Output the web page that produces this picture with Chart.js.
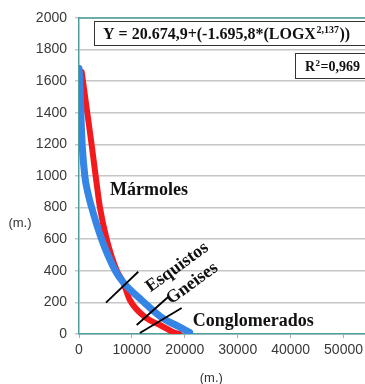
<!DOCTYPE html>
<html>
<head>
<meta charset="utf-8">
<script src="https://cdn.jsdelivr.net/npm/chart.js@4.4.1/dist/chart.umd.min.js"></script>
<style>
  html, body { margin: 0; padding: 0; background: #fff; overflow: hidden; width: 365px; height: 384px; }
  #wrap { position: relative; width: 372px; height: 384px; }
</style>
</head>
<body>
<div id="wrap"><canvas id="c" width="372" height="384"></canvas></div>
<script>
// Distance (m.) vs height (m.) for the two fitted run-out curves
const blueX = [0, 150, 350, 600, 1100, 1500, 2400, 4280, 6800, 8300, 11800, 15800, 18700, 20900];
const blueY = [1680, 1600, 1400, 1200, 1000, 920, 800, 600, 405, 330, 215, 100, 50, 10];
const redX = [500, 1570, 2380, 3150, 3960, 5230, 7100, 8300, 9620, 12770, 15300, 18100, 19000];
const redY = [1660, 1400, 1200, 1000, 800, 600, 405, 330, 215, 100, 57, 8, 0];

// Short crossing strokes marking each rock type on the curves
const slashEsquistos = [[5100, 198], [11200, 394]];
const slashGneises = [[10900, 57], [16850, 234]];
const slashConglomerados = [[11500, 6], [19400, 165]];

// Text labels: [text, x, y, angle in degrees]
const rockLabels = [
  ['Mármoles', 5850, 880, 0],
  ['Esquistos', 13500, 262, -36],
  ['Gneises', 17400, 186, -36],
  ['Conglomerados', 21500, 50, 0]
];
const equationText = 'Y = 20.674,9+(-1.695,8*(LOGX';
const equationExp = '2,137';
const equationTail = '))';
const r2Text = ['R', '2', '=0,969'];

const xTicks = [0, 10000, 20000, 30000, 40000, 50000];
const axisTitle = '(m.)';

const toPts = (xs, ys) => xs.map((x, i) => ({ x, y: ys[i] }));
const pairPts = p => p.map(([x, y]) => ({ x, y }));

const teal = '#4f9e9e';

const decor = {
  id: 'decor',
  afterDraw(chart) {
    const { ctx, chartArea: a, scales: { x, y } } = chart;
    ctx.save();
    // top frame line
    ctx.strokeStyle = teal;
    ctx.lineWidth = 1.5;
    ctx.beginPath();
    ctx.moveTo(a.left, a.top);
    ctx.lineTo(a.right + 5, a.top);
    ctx.stroke();

    // rock labels
    ctx.fillStyle = '#111';
    ctx.font = 'bold 18px "Liberation Serif", "Times New Roman", serif';
    ctx.textBaseline = 'alphabetic';
    ctx.textAlign = 'left';
    rockLabels.forEach(([t, vx, vy, ang]) => {
      ctx.save();
      ctx.translate(x.getPixelForValue(vx), y.getPixelForValue(vy));
      ctx.rotate(ang * Math.PI / 180);
      ctx.fillText(t, 0, 0);
      ctx.restore();
    });

    // equation box
    ctx.fillStyle = '#fff';
    ctx.strokeStyle = '#333';
    ctx.lineWidth = 1;
    ctx.fillRect(94.5, 21.5, 290, 24);
    ctx.strokeRect(94.5, 21.5, 290, 24);
    ctx.fillStyle = '#111';
    ctx.font = 'bold 16px "Liberation Serif", "Times New Roman", serif';
    let px = 103;
    const base = 39;
    ctx.fillText(equationText, px, base);
    px += ctx.measureText(equationText).width;
    ctx.font = 'bold 10px "Liberation Serif", "Times New Roman", serif';
    ctx.fillText(equationExp, px + 0.5, base - 6);
    px += ctx.measureText(equationExp).width + 1;
    ctx.font = 'bold 16px "Liberation Serif", "Times New Roman", serif';
    ctx.fillText(equationTail, px, base);

    // R² box
    ctx.fillStyle = '#fff';
    ctx.fillRect(295.5, 53.5, 90, 25);
    ctx.strokeRect(295.5, 53.5, 90, 25);
    ctx.fillStyle = '#111';
    let rx = 305;
    const rb = 71;
    ctx.font = 'bold 14px "Liberation Serif", "Times New Roman", serif';
    ctx.fillText(r2Text[0], rx, rb);
    rx += ctx.measureText(r2Text[0]).width;
    ctx.font = 'bold 9px "Liberation Serif", "Times New Roman", serif';
    ctx.fillText(r2Text[1], rx + 0.5, rb - 5);
    rx += ctx.measureText(r2Text[1]).width + 1;
    ctx.font = 'bold 14px "Liberation Serif", "Times New Roman", serif';
    ctx.fillText(r2Text[2], rx, rb);

    // axis titles
    ctx.fillStyle = '#333';
    ctx.font = '13px "Liberation Sans", Arial, sans-serif';
    ctx.textAlign = 'center';
    ctx.textBaseline = 'middle';
    ctx.fillText(axisTitle, 20, 223);
    ctx.fillText(axisTitle, (x.getPixelForValue(xTicks[2]) + x.getPixelForValue(xTicks[3])) / 2, 378);
    ctx.restore();
  }
};

const slashStyle = {
  type: 'line', showLine: true, borderColor: '#000', borderWidth: 1.8,
  pointRadius: 0, fill: false, tension: 0
};

const plainNumber = v => String(v);

new Chart(document.getElementById('c'), {
  type: 'scatter',
  data: {
    datasets: [
      {
        label: 'Mármoles', data: toPts(redX, redY), showLine: true,
        borderColor: '#f31a1e', borderWidth: 6, pointRadius: 0,
        cubicInterpolationMode: 'monotone', borderCapStyle: 'round', order: 2
      },
      {
        label: 'Resto', data: toPts(blueX, blueY), showLine: true,
        borderColor: '#3585e6', borderWidth: 7, pointRadius: 0,
        cubicInterpolationMode: 'monotone', borderCapStyle: 'round', order: 1
      },
      Object.assign({ data: pairPts(slashEsquistos), order: 0 }, slashStyle),
      Object.assign({ data: pairPts(slashGneises), order: 0 }, slashStyle),
      Object.assign({ data: pairPts(slashConglomerados), order: 0 }, slashStyle)
    ]
  },
  options: {
    responsive: false,
    animation: false,
    devicePixelRatio: 1,
    layout: { padding: { top: 18, right: 2, left: 0, bottom: 0 } },
    plugins: { legend: { display: false }, tooltip: { enabled: false } },
    scales: {
      x: {
        type: 'linear', min: 0, max: 55000,
        afterBuildTicks: s => { s.ticks = xTicks.map(v => ({ value: v })); },
        afterFit: s => { s.height = 50; },
        grid: { drawOnChartArea: false, drawTicks: true, tickLength: 4, color: '#aaa' },
        border: { color: teal, width: 1.5 },
        ticks: {
          color: '#383838', padding: 4, callback: plainNumber,
          font: { family: '"Liberation Sans", Arial, sans-serif', size: 14 },
          maxRotation: 0, autoSkip: false
        }
      },
      y: {
        min: 0, max: 2000,
        afterFit: s => { s.width = 79; },
        grid: { color: '#c6c6c6', lineWidth: 1.5, tickLength: 4 },
        border: { color: teal, width: 1.5 },
        ticks: {
          stepSize: 200, color: '#383838', padding: 8, callback: plainNumber,
          font: { family: '"Liberation Sans", Arial, sans-serif', size: 14 }
        }
      }
    }
  },
  plugins: [decor]
});
</script>
</body>
</html>
